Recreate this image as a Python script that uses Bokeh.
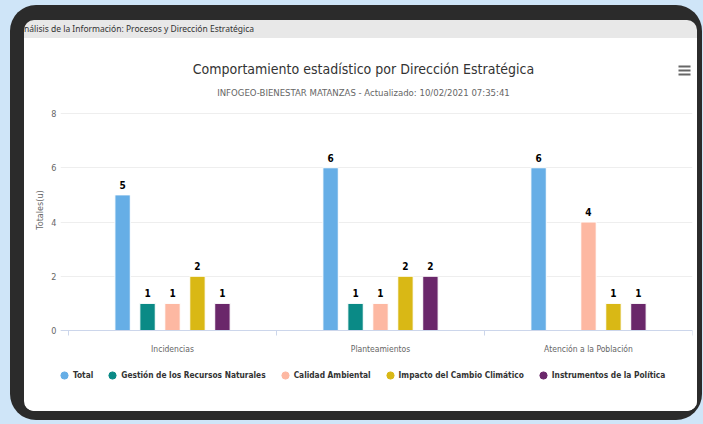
from bokeh.plotting import figure
from bokeh.models import (ColumnDataSource, FixedTicker, BoxAnnotation, Label,
                          Legend, LegendItem, Range1d, Div, GlobalInlineStyleSheet)
from bokeh.layouts import column
from bokeh.transform import dodge
from bokeh.core.properties import value
from bokeh.embed import file_html
from bokeh.resources import INLINE

# ---- data ----
categories = ["Incidencias", "Planteamientos", "Atención a la Población"]
series_names = ["Total", "Gestión de los Recursos Naturales", "Calidad Ambiental",
                "Impacto del Cambio Climático", "Instrumentos de la Política"]
total = [5, 6, 6]
gestion = [1, 1, 0]
calidad = [1, 1, 4]
impacto = [2, 2, 1]
instrumentos = [1, 2, 1]
y_ticks = [0, 2, 4, 6, 8]
title_text = "Comportamiento estadístico por Dirección Estratégica"
subtitle_text = "INFOGEO-BIENESTAR MATANZAS - Actualizado: 10/02/2021 07:35:41"
header_text = "nálisis de la Información: Procesos y Dirección Estratégica"
y_title = "Totales(u)"

series_values = [total, gestion, calidad, impacto, instrumentos]
colors = ["#66aee6", "#0a8a86", "#fdb8a2", "#d9b815", "#6a276a"]

FONT = "'DejaVu Sans Condensed', 'Liberation Sans Narrow', Roboto, sans-serif"

W, H = 673, 373
p = figure(width=W, height=H, output_backend="svg", toolbar_location=None,
           x_range=Range1d(-0.5385, 2.5), y_range=Range1d(-1.88, 10.765),
           min_border_left=36, min_border_right=5, min_border_top=0,
           min_border_bottom=30, title=None,
           styles={"background-color": "white", "border-radius": "0 0 10px 10px",
                   "overflow": "hidden"})
p.border_fill_color = "white"
p.background_fill_color = "white"
p.outline_line_color = None

# title / subtitle / menu icon (inside the frame, screen units from frame bottom-left)
p.add_layout(Label(x=303, y=313, x_units="screen", y_units="screen", text=title_text,
                   text_font=FONT, text_font_size="14px", text_color="#333333",
                   text_baseline="middle", text_align="center"))
p.add_layout(Label(x=303, y=289, x_units="screen", y_units="screen", text=subtitle_text,
                   text_font=FONT, text_font_size="9.5px", text_color="#666666",
                   text_baseline="middle", text_align="center"))
for yy in (315, 311, 307):
    p.add_layout(BoxAnnotation(left=618, right=630, bottom=yy - 1, top=yy + 1,
                               left_units="screen", right_units="screen",
                               top_units="screen", bottom_units="screen",
                               fill_color="#666666", fill_alpha=1, line_color=None))

# ---- bars ----
src = ColumnDataSource(dict(idx=list(range(len(categories))),
                            **{f"s{i}": v for i, v in enumerate(series_values)}))
step = 0.12
items = []
for i, (name, col) in enumerate(zip(series_names, colors)):
    off = (i - 2) * step
    p.vbar(x=dodge("idx", off, range=p.x_range), top=f"s{i}", width=0.074,
           source=src, fill_color=col, line_color="white", line_width=1)
    lab_x = [k for k, v in enumerate(series_values[i]) if v > 0]
    lab_v = [v for v in series_values[i] if v > 0]
    lsrc = ColumnDataSource(dict(x=lab_x, y=lab_v, t=[str(v) for v in lab_v]))
    p.text(x=dodge("x", off, range=p.x_range), y="y", text="t", source=lsrc,
           text_font=value(FONT), text_font_size="10px", text_font_style="bold",
           text_color="#000000", text_align="center", text_baseline="bottom",
           y_offset=-6)
    # legend proxy (not drawn in the plot area: NaN position)
    dummy = p.scatter(x=[float("nan")], y=[float("nan")], marker="circle",
                      fill_color=col, line_color=col)
    items.append(LegendItem(label=name, renderers=[dummy]))

legend = Legend(items=items, orientation="horizontal", location=(-5, -3),
                border_line_color=None, background_fill_alpha=0,
                label_text_font=FONT, label_text_font_size="8.3px",
                label_text_font_style="bold", label_text_color="#333333",
                glyph_width=18, glyph_height=18, label_standoff=0, spacing=10,
                padding=0, margin=0, label_height=12)
p.add_layout(legend, "center")

# ---- axes ----
p.yaxis.ticker = FixedTicker(ticks=y_ticks)
p.yaxis.axis_line_color = None
p.yaxis.major_tick_line_color = None
p.yaxis.minor_tick_line_color = None
p.yaxis.major_tick_out = 0
p.yaxis.major_label_standoff = 4
p.yaxis.major_label_text_font = FONT
p.yaxis.major_label_text_font_size = "9px"
p.yaxis.major_label_text_color = "#666666"
p.yaxis.axis_label = y_title
p.yaxis.axis_label_text_font = FONT
p.yaxis.axis_label_text_font_size = "9px"
p.yaxis.axis_label_text_font_style = "normal"
p.yaxis.axis_label_text_color = "#666666"
p.yaxis.axis_label_standoff = 3

p.xaxis.fixed_location = 0
p.xaxis.ticker = FixedTicker(ticks=list(range(len(categories))),
                             minor_ticks=[k - 0.5 for k in range(len(categories) + 1)])
p.xaxis.major_label_overrides = {k: c for k, c in enumerate(categories)}
p.xaxis.axis_line_color = "#ccd6eb"
p.xaxis.major_tick_line_color = None
p.xaxis.major_tick_out = 0
p.xaxis.minor_tick_line_color = "#ccd6eb"
p.xaxis.minor_tick_out = 5
p.xaxis.minor_tick_in = 0
p.xaxis.major_label_standoff = 8
p.xaxis.major_label_text_font = FONT
p.xaxis.major_label_text_font_size = "8.5px"
p.xaxis.major_label_text_color = "#666666"

p.xgrid.grid_line_color = None
p.ygrid.ticker = FixedTicker(ticks=y_ticks)
p.ygrid.grid_line_color = "#eeeeee"

header = Div(text=header_text, width=W, height=18, margin=0,
             styles={"background-color": "#e8e8e8", "font-family": "'Noto Sans', sans-serif",
                     "font-stretch": "condensed", "font-size": "8.5px", "color": "#333333",
                     "line-height": "18px", "border-radius": "10px 10px 0 0",
                     "white-space": "nowrap", "overflow": "hidden"})

page_css = GlobalInlineStyleSheet(css="html, body { background-color: #cfe5f8; }")
layout = column(header, p, spacing=0,
                styles={"background-color": "#2b2b2b", "border-radius": "26px",
                        "padding": "15px 5px 9px 14px", "margin-left": "10px",
                        "margin-top": "5px"},
                stylesheets=[page_css])

open("out.html", "w").write(file_html(layout, INLINE))
